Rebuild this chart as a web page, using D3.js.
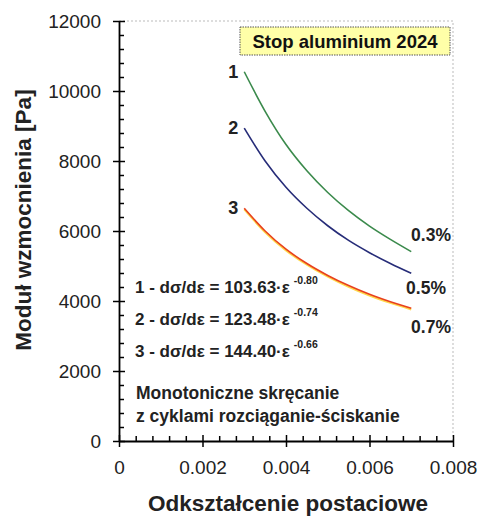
<!DOCTYPE html>
<html>
<head>
<meta charset="utf-8">
<script src="https://cdn.jsdelivr.net/npm/d3@7"></script>
<style>
  body { margin: 0; background: #fff; }
  svg { font-family: "Liberation Sans", Arial, sans-serif; }
</style>
</head>
<body>
<div id="chart"></div>
<script>
// values
var strain = [0.003, 0.0035, 0.004, 0.0045, 0.005, 0.0055, 0.006, 0.0065, 0.007];
var curve1 = [10550, 9420, 8470, 7720, 7100, 6580, 6140, 5760, 5410];
var curve2 = [8940, 8000, 7250, 6650, 6150, 5730, 5380, 5070, 4790];
var curve3 = [6650, 6000, 5480, 5070, 4730, 4440, 4190, 3980, 3790];
var yTicks = [0, 2000, 4000, 6000, 8000, 10000, 12000];
var xTicks = [0, 0.002, 0.004, 0.006, 0.008];
var xTickLabels = ['0', '0.002', '0.004', '0.006', '0.008'];
var curveNames = ['1', '2', '3'];
var endLabels = ['0.3%', '0.5%', '0.7%'];
var equations = [
  ['1 - d\u03c3/d\u03b5 = 103.63\u00b7\u03b5', '-0.80'],
  ['2 - d\u03c3/d\u03b5 = 123.48\u00b7\u03b5', '-0.74'],
  ['3 - d\u03c3/d\u03b5 = 144.40\u00b7\u03b5', '-0.66']
];

var W = 477, H = 518;
var x = d3.scaleLinear().domain([0, 0.008]).range([119, 453]);
var y = d3.scaleLinear().domain([0, 12000]).range([441, 21]);

var svg = d3.select('#chart').append('svg')
    .attr('width', W)
    .attr('height', H);

// light dotted frame top/right
svg.append('path')
    .attr('d', 'M' + x(0) + ',' + y(12000) + 'H' + x(0.008) + 'V' + y(0))
    .attr('fill', 'none')
    .attr('stroke', '#bbb')
    .attr('stroke-dasharray', '2,2');

var yMinor = d3.range(0, 12001, 400).filter(function(d) { return d % 2000 != 0; });
var xMinor = d3.range(0, 21).map(function(i) { return i * 0.0004; })
    .filter(function(d, i) { return i % 5 != 0; });

// y axis
var gy = svg.append('g')
    .attr('transform', 'translate(' + x(0) + ',0)')
    .call(d3.axisLeft(y).tickValues(yTicks).tickSize(6).tickSizeOuter(0).tickPadding(12)
      .tickFormat(d3.format('d')));
gy.selectAll('.tick line').attr('x1', 6);
svg.append('g')
    .attr('transform', 'translate(' + x(0) + ',0)')
    .call(d3.axisRight(y).tickValues(yMinor).tickSize(5).tickSizeOuter(0).tickFormat(''))
    .select('.domain').remove();

// x axis
var gx = svg.append('g')
    .attr('transform', 'translate(0,' + y(0) + ')')
    .call(d3.axisBottom(x).tickValues(xTicks).tickSize(6).tickSizeOuter(0).tickPadding(14)
      .tickFormat(function(d, i) { return xTickLabels[i]; }));
gx.selectAll('.tick line').attr('y1', -6);
svg.append('g')
    .attr('transform', 'translate(0,' + y(0) + ')')
    .call(d3.axisTop(x).tickValues(xMinor).tickSize(5).tickSizeOuter(0).tickFormat(''))
    .select('.domain').remove();

svg.selectAll('.domain').attr('stroke-width', 1.8);
svg.selectAll('.tick line').attr('stroke-width', 1.5);
svg.selectAll('.tick text')
    .attr('font-size', 19)
    .attr('fill', '#222')
    .attr('font-family', '"Liberation Sans", Arial, sans-serif');

// axis titles
svg.append('text')
    .attr('x', 288)
    .attr('y', 511)
    .attr('text-anchor', 'middle')
    .attr('font-size', 22.5)
    .attr('font-weight', 'bold')
    .attr('fill', '#222')
    .text('Odkształcenie postaciowe');

svg.append('text')
    .attr('transform', 'translate(31,220) rotate(-90)')
    .attr('text-anchor', 'middle')
    .attr('font-size', 22.5)
    .attr('font-weight', 'bold')
    .attr('fill', '#222')
    .text('Moduł wzmocnienia [Pa]');

// title box
svg.append('rect')
    .attr('x', 240).attr('y', 27)
    .attr('width', 210).attr('height', 28)
    .attr('fill', '#ffffa8')
    .attr('stroke', '#555')
    .attr('stroke-dasharray', '1.5,1');
svg.append('text')
    .attr('x', 345).attr('y', 48)
    .attr('text-anchor', 'middle')
    .attr('font-size', 18.5)
    .attr('font-weight', 'bold')
    .attr('fill', '#111')
    .text('Stop aluminium 2024');

// curves
var line = d3.line()
    .x(function(d, i) { return x(strain[i]); })
    .y(function(d) { return y(d); })
    .curve(d3.curveMonotoneX);

svg.append('path')
    .attr('d', line(curve3))
    .attr('transform', 'translate(0,1.2)')
    .attr('fill', 'none')
    .attr('stroke', '#ffd84a')
    .attr('stroke-width', 2);

var series = [curve1, curve2, curve3];
var colors = ['#3b8a4c', '#262c78', '#e8401e'];
svg.selectAll('.curve')
    .data(series)
    .enter()
    .append('path')
    .attr('class', 'curve')
    .attr('d', function(d) { return line(d); })
    .attr('fill', 'none')
    .attr('stroke', function(d, i) { return colors[i]; })
    .attr('stroke-width', 1.6);

// curve numbers
svg.selectAll('.num')
    .data(series)
    .enter()
    .append('text')
    .attr('x', function() { return x(strain[0]) - 6; })
    .attr('y', function(d) { return y(d[0]) + 6; })
    .attr('text-anchor', 'end')
    .attr('font-size', 18)
    .attr('font-weight', 'bold')
    .attr('fill', '#222')
    .text(function(d, i) { return curveNames[i]; });

// strain amplitude labels
var endY = [235, 288, 327];
svg.selectAll('.endlab')
    .data(endLabels)
    .enter()
    .append('text')
    .attr('x', function(d, i) { return i == 1 ? 446 : 451; })
    .attr('y', function(d, i) { return endY[i] + 6; })
    .attr('text-anchor', 'end')
    .attr('font-size', 17.5)
    .attr('font-weight', 'bold')
    .attr('fill', '#222')
    .text(function(d) { return d; });

// equations
var eqY = [293, 325, 357];
var eq = svg.selectAll('.eq')
    .data(equations)
    .enter()
    .append('text')
    .attr('x', 135)
    .attr('y', function(d, i) { return eqY[i]; })
    .attr('font-size', 17)
    .attr('font-weight', 'bold')
    .attr('fill', '#222');
eq.append('tspan').text(function(d) { return d[0]; });
eq.append('tspan')
    .attr('dx', 4)
    .attr('dy', -9)
    .attr('font-size', 10.5)
    .text(function(d) { return d[1]; });

// note
svg.append('text')
    .attr('x', 136).attr('y', 399)
    .attr('font-size', 17.5)
    .attr('font-weight', 'bold')
    .attr('fill', '#222')
    .text('Monotoniczne skręcanie');
svg.append('text')
    .attr('x', 136).attr('y', 422)
    .attr('font-size', 17.5)
    .attr('font-weight', 'bold')
    .attr('fill', '#222')
    .text('z cyklami rozciąganie-ściskanie');
</script>
</body>
</html>
